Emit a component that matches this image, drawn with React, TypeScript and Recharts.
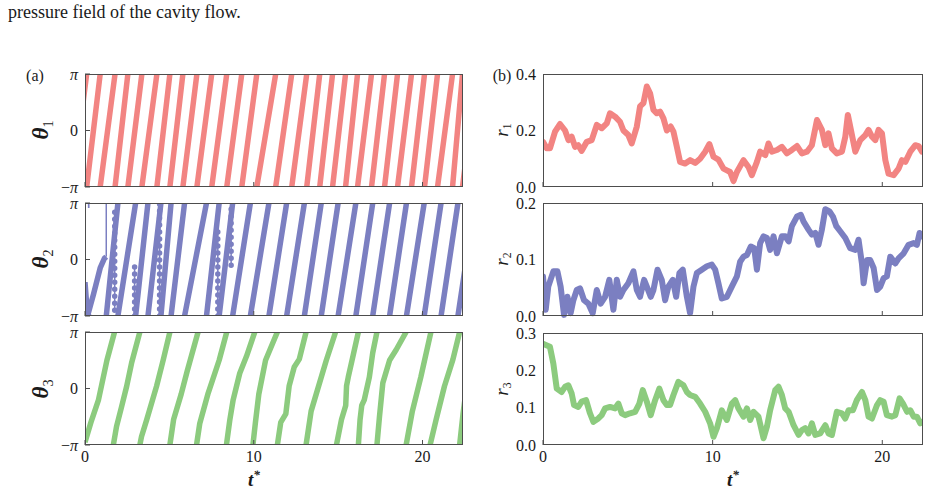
import React from "react";
import { LineChart, Line, XAxis, YAxis } from "recharts";

const FONT = '"Liberation Serif", "Times New Roman", serif';
const INK = "#1a1a1a";
const FRAME = "#4d4d4d";
const RED = "#f28482";
const BLUE = "#7b7fc1";
const GREEN = "#8ccb7e";

const TMAX = 22.4;
const X_TICKS = [0, 10, 20];
const THETA_TICKS = [-Math.PI, 0, Math.PI];

type Pt = [number, number];

// theta1: times where the phase reaches +pi and restarts at -pi
const theta1Wraps = [
  -0.75, 0.1, 0.9, 1.78, 2.54, 3.37, 4.26, 5.03, 5.8, 6.63, 7.51, 8.4, 9.29, 10.18, 11.3, 12.25,
  13.14, 13.91, 14.67, 15.44, 16.15, 16.98, 17.75, 18.52, 19.35, 20.12, 20.89, 21.78, 22.37, 23.2,
];

// theta2 (values in units of pi)
const theta2Lead: Pt[][] = [
  [[0, -0.4], [0.05, -0.6], [0.1, -0.8], [0.22, -1]],
  [[0.15, -1], [0.5, -0.62], [0.9, -0.15], [1.15, 0.02], [1.26, 0.05]],
  [[0.17, 0.96], [0.27, 0.96]],
];
const theta2Jump: Pt[][] = [[[1.26, 0.05], [1.26, 1]]];
const theta2Wraps = [
  1.26, 1.95, 3.0, 3.73, 4.5, 5.1, 5.9, 7.2, 7.95, 8.75, 9.8, 10.9, 11.95, 13.0, 14.0, 15.0, 16.05,
  17.05, 18.05, 19.05, 20.1, 21.1, 22.1, 23.1,
];
// dotted vertical columns: [t, low, high]
const theta2Flicker = [
  [1.76, -0.9, 0.85],
  [2.94, -1, -0.1],
  [4.42, -1, 1],
  [7.87, -1, 0.6],
  [8.66, -0.1, 0.9],
];

// theta3 strokes (values in units of pi)
const theta3Strokes: Pt[][] = [
  [[0, -0.95], [0.35, -0.6], [0.8, -0.2], [1.05, 0.15], [1.3, 0.5], [1.75, 1]],
  [[1.68, -1], [1.87, -0.67], [2.17, -0.32], [2.47, 0.04], [2.76, 0.45], [3.25, 1]],
  [[3.25, -1], [3.35, -0.85], [3.65, -0.56], [4.24, 0.04], [4.64, 0.51], [5.03, 1]],
  [[5.03, -1], [5.25, -0.55], [5.7, -0.1], [6.05, 0.3], [6.7, 1]],
  [[6.61, -1], [6.8, -0.62], [7.3, -0.08], [7.95, 0.5], [8.4, 1]],
  [[8.38, -1], [8.58, -0.56], [8.78, -0.2], [9.17, 0.27], [9.57, 0.57], [10.06, 1]],
  [[9.95, -1], [10.1, -0.6], [10.3, -0.1], [10.7, 0.5], [11.4, 1]],
  [[11.4, -1], [11.6, -0.6], [11.9, -0.45], [12.1, 0.05], [12.4, 0.38], [12.7, 0.52], [13.1, 1]],
  [[13.1, -1], [13.4, -0.4], [13.9, 0.1], [14.3, 0.5], [14.85, 1]],
  [[14.9, -1], [15.2, -0.55], [15.45, -0.3], [15.5, 0.05], [15.6, 0.2], [15.9, 0.6], [16.2, 1]],
  [[16.2, -1], [16.3, -0.55], [16.4, -0.3], [16.55, -0.2], [16.85, 0.2], [17.05, 0.63], [17.3, 1]],
  [[17.3, -1], [17.45, -0.5], [17.65, 0.1], [18.05, 0.5], [18.45, 0.69], [19.03, 1]],
  [[19.03, -1], [19.4, -0.4], [19.9, 0.2], [20.5, 1]],
  [[20.45, -1], [20.8, -0.56], [21.3, 0.04], [21.8, 0.51], [22.2, 1]],
  [[22.2, -1], [22.4, -0.45], [22.6, 0]],
];

// amplitudes [t, r]
const r1Points: Pt[] = [
  [0, 0.16], [0.22, 0.137], [0.41, 0.137], [0.71, 0.196], [1.0, 0.223], [1.3, 0.2], [1.5, 0.166],
  [1.69, 0.178], [1.89, 0.142], [2.08, 0.148], [2.28, 0.128], [2.58, 0.16], [2.87, 0.166],
  [3.17, 0.22], [3.46, 0.208], [3.76, 0.225], [3.95, 0.261], [4.25, 0.249], [4.54, 0.231],
  [4.74, 0.2], [5.03, 0.184], [5.23, 0.154], [5.53, 0.214], [5.72, 0.285], [5.92, 0.297],
  [6.12, 0.356], [6.31, 0.332], [6.51, 0.273], [6.71, 0.261], [6.9, 0.267], [7.1, 0.243],
  [7.3, 0.2], [7.53, 0.214], [7.69, 0.196], [7.89, 0.142], [8.08, 0.089], [8.38, 0.083],
  [8.67, 0.095], [8.97, 0.085], [9.26, 0.1], [9.56, 0.125], [9.81, 0.152], [10.05, 0.107],
  [10.34, 0.097], [10.64, 0.065], [10.84, 0.059], [11.03, 0.053], [11.23, 0.021], [11.43, 0.053],
  [11.82, 0.095], [12.11, 0.071], [12.31, 0.042], [12.61, 0.089], [12.8, 0.125], [13.1, 0.113],
  [13.29, 0.154], [13.49, 0.125], [13.79, 0.131], [14.08, 0.142], [14.38, 0.119], [14.67, 0.131],
  [14.97, 0.145], [15.26, 0.119], [15.56, 0.125], [15.85, 0.148], [16.15, 0.237], [16.44, 0.202],
  [16.64, 0.148], [16.83, 0.19], [17.03, 0.137], [17.32, 0.119], [17.62, 0.125], [17.82, 0.178],
  [17.97, 0.255], [18.15, 0.202], [18.41, 0.125], [18.7, 0.166], [19.0, 0.184], [19.19, 0.202],
  [19.39, 0.178], [19.59, 0.166], [19.78, 0.202], [19.98, 0.19], [20.18, 0.095], [20.37, 0.047],
  [20.67, 0.042], [20.96, 0.065], [21.16, 0.095], [21.36, 0.089], [21.65, 0.125], [21.95, 0.148],
  [22.14, 0.145], [22.34, 0.125],
];

const r2Points: Pt[] = [
  [0, 0.07], [0.16, 0.011], [0.31, 0.052], [0.61, 0.079], [0.85, 0.079], [1.04, 0.052],
  [1.24, 0.002], [1.44, 0.034], [1.63, 0.005], [1.79, 0.028], [1.99, 0.046], [2.18, 0.049],
  [2.42, 0.028], [2.67, 0.022], [2.93, 0.005], [3.17, 0.046], [3.4, 0.022], [3.66, 0.034],
  [3.91, 0.064], [4.15, 0.011], [4.35, 0.064], [4.54, 0.034], [4.74, 0.046], [5.03, 0.058],
  [5.33, 0.079], [5.53, 0.046], [5.72, 0.034], [5.96, 0.064], [6.12, 0.052], [6.35, 0.034],
  [6.51, 0.046], [6.75, 0.082], [7.0, 0.064], [7.2, 0.028], [7.39, 0.052], [7.65, 0.064],
  [7.85, 0.034], [8.04, 0.076], [8.24, 0.082], [8.48, 0.034], [8.67, 0.005], [8.87, 0.052],
  [9.07, 0.076], [9.36, 0.082], [9.66, 0.088], [9.95, 0.091], [10.15, 0.082], [10.34, 0.058],
  [10.54, 0.031], [10.84, 0.034], [11.13, 0.052], [11.43, 0.07], [11.62, 0.096], [11.82, 0.105],
  [12.02, 0.108], [12.25, 0.123], [12.45, 0.12], [12.61, 0.082], [12.8, 0.129], [13.0, 0.141],
  [13.2, 0.138], [13.39, 0.117], [13.59, 0.141], [13.79, 0.111], [14.08, 0.141], [14.28, 0.141],
  [14.48, 0.132], [14.67, 0.159], [14.97, 0.176], [15.2, 0.179], [15.36, 0.167], [15.65, 0.153],
  [15.85, 0.144], [16.05, 0.147], [16.24, 0.126], [16.44, 0.153], [16.64, 0.189], [16.89, 0.185],
  [17.09, 0.176], [17.29, 0.159], [17.52, 0.15], [17.82, 0.138], [18.11, 0.12], [18.41, 0.117],
  [18.6, 0.135], [18.8, 0.093], [18.9, 0.058], [19.1, 0.099], [19.29, 0.099], [19.49, 0.085],
  [19.69, 0.046], [19.88, 0.052], [20.08, 0.067], [20.27, 0.07], [20.47, 0.105], [20.77, 0.093],
  [20.96, 0.102], [21.26, 0.111], [21.55, 0.126], [21.85, 0.129], [22.04, 0.126], [22.2, 0.147],
  [22.34, 0.141],
];

const r3Points: Pt[] = [
  [0, 0.271], [0.2, 0.267], [0.41, 0.263], [0.61, 0.218], [0.81, 0.151], [1.1, 0.142],
  [1.3, 0.156], [1.49, 0.16], [1.69, 0.138], [1.83, 0.107], [2.08, 0.102], [2.28, 0.116],
  [2.54, 0.12], [2.77, 0.085], [2.97, 0.062], [3.26, 0.071], [3.46, 0.08], [3.66, 0.098],
  [3.95, 0.102], [4.25, 0.098], [4.44, 0.111], [4.64, 0.085], [4.84, 0.08], [5.13, 0.085],
  [5.43, 0.089], [5.68, 0.111], [5.88, 0.147], [6.12, 0.116], [6.35, 0.08], [6.61, 0.12],
  [6.86, 0.151], [7.1, 0.12], [7.3, 0.107], [7.49, 0.107], [7.69, 0.134], [7.98, 0.169],
  [8.28, 0.16], [8.48, 0.142], [8.67, 0.134], [8.97, 0.129], [9.26, 0.111], [9.56, 0.089],
  [9.85, 0.058], [10.05, 0.022], [10.25, 0.045], [10.54, 0.093], [10.84, 0.067], [11.13, 0.111],
  [11.33, 0.12], [11.52, 0.098], [11.82, 0.076], [12.02, 0.098], [12.21, 0.067], [12.41, 0.089],
  [12.7, 0.076], [13.0, 0.018], [13.2, 0.049], [13.39, 0.093], [13.69, 0.147], [13.88, 0.156],
  [14.08, 0.134], [14.28, 0.098], [14.48, 0.089], [14.77, 0.053], [15.07, 0.027], [15.26, 0.04],
  [15.46, 0.045], [15.65, 0.031], [15.85, 0.058], [16.05, 0.027], [16.34, 0.031], [16.64, 0.053],
  [16.83, 0.031], [17.03, 0.027], [17.32, 0.089], [17.62, 0.085], [17.82, 0.071], [18.01, 0.093],
  [18.27, 0.093], [18.5, 0.12], [18.8, 0.142], [19.0, 0.12], [19.19, 0.076], [19.39, 0.071],
  [19.69, 0.107], [19.88, 0.12], [20.08, 0.116], [20.27, 0.08], [20.57, 0.076], [20.77, 0.08],
  [21.02, 0.125], [21.22, 0.111], [21.46, 0.089], [21.65, 0.093], [21.85, 0.076], [22.04, 0.076],
  [22.24, 0.058], [22.34, 0.062],
];

type Row = Record<string, number | null>;

function wrapsToStrokes(wraps: number[]): Pt[][] {
  const out: Pt[][] = [];
  for (let i = 0; i < wraps.length - 1; i++) {
    out.push([[wraps[i], -1], [wraps[i + 1], 1]]);
  }
  return out;
}

// strokes in units of pi -> rows separated by nulls
function strokeRows(strokes: Pt[][], key: string): Row[] {
  const rows: Row[] = [];
  strokes.forEach((s) => {
    s.forEach(([t, th]) => rows.push({ t, [key]: th * Math.PI }));
    rows.push({ t: s[s.length - 1][0], [key]: null });
  });
  return rows;
}

const theta1Rows = strokeRows(wrapsToStrokes(theta1Wraps), "v");
const theta2Rows = [
  ...strokeRows([...theta2Lead, ...wrapsToStrokes(theta2Wraps)], "v"),
  ...strokeRows(theta2Jump, "jump"),
  ...strokeRows(
    theta2Flicker.map(([t, lo, hi]) => [[t, lo], [t, hi]] as Pt[]),
    "dot"
  ),
];
const theta3Rows = strokeRows(theta3Strokes, "v");
const toRows = (pts: Pt[]): Row[] => pts.map(([t, r]) => ({ t, v: r }));

function PiTick(props: any) {
  const { x, y, payload } = props;
  const v = payload.value;
  return (
    <text x={x} y={y} textAnchor="end" dominantBaseline="central" fontFamily={FONT} fontSize={16} fill={INK}>
      {v < 0 ? "\u2212" : ""}
      {v === 0 ? "0" : <tspan fontStyle="italic">π</tspan>}
    </text>
  );
}

const YW = 60;
const PAD = 12;

interface PanelProps {
  x: number;
  y: number;
  w: number;
  h: number;
  rows: Row[];
  domain: [number, number];
  yTicks: number[];
  theta?: boolean;
  showX?: boolean;
  children: React.ReactNode;
}

function Panel({ x, y, w, h, rows, domain, yTicks, theta, showX, children }: PanelProps) {
  const XH = showX ? 30 : PAD;
  return (
    <>
      <div style={{ position: "absolute", left: x - YW, top: y - PAD }}>
        <LineChart
          width={YW + w + 10}
          height={PAD + h + XH}
          data={rows}
          margin={{ top: PAD, right: 10, left: 0, bottom: 0 }}
        >
          <XAxis
            dataKey="t"
            type="number"
            domain={[0, TMAX]}
            ticks={X_TICKS}
            interval={0}
            allowDataOverflow
            axisLine={false}
            tickSize={-5}
            tickLine={{ stroke: FRAME }}
            tickMargin={11}
            height={XH}
            tick={{ fill: INK, fontSize: 16, fontFamily: FONT }}
            tickFormatter={(v: number) => (showX ? String(v) : "")}
          />
          <YAxis
            type="number"
            domain={domain}
            ticks={yTicks}
            interval={0}
            allowDataOverflow={!!theta}
            axisLine={false}
            width={YW}
            tickSize={theta ? -5 : 0}
            tickLine={theta ? { stroke: FRAME } : false}
            tickMargin={theta ? 12 : 7}
            tick={theta ? <PiTick /> : { fill: INK, fontSize: 16, fontFamily: FONT }}
            tickFormatter={(v: number) => v.toFixed(1)}
          />
          {children}
        </LineChart>
      </div>
      <div
        style={{
          position: "absolute",
          left: x,
          top: y,
          width: w,
          height: h,
          border: `1px solid ${FRAME}`,
          boxSizing: "border-box",
          pointerEvents: "none",
        }}
      />
    </>
  );
}

function Txt({
  cx,
  cy,
  size,
  rotate,
  children,
}: {
  cx: number;
  cy: number;
  size: number;
  rotate?: boolean;
  children: React.ReactNode;
}) {
  return (
    <div
      style={{
        position: "absolute",
        left: cx,
        top: cy,
        transform: `translate(-50%, -50%)${rotate ? " rotate(-90deg)" : ""}`,
        fontFamily: FONT,
        fontSize: size,
        lineHeight: 1,
        whiteSpace: "nowrap",
        color: INK,
      }}
    >
      {children}
    </div>
  );
}

const sub = (s: string) => (
  <span style={{ fontSize: "0.62em", verticalAlign: "-0.3em", fontWeight: "normal", fontStyle: "normal" }}>{s}</span>
);

const thetaLabel = (n: string) => (
  <span>
    <span style={{ fontStyle: "italic", fontWeight: "bold" }}>θ</span>
    {sub(n)}
  </span>
);
const rLabel = (n: string) => (
  <span>
    <span style={{ fontStyle: "italic" }}>r</span>
    {sub(n)}
  </span>
);
const tStar = (
  <span style={{ fontStyle: "italic", fontWeight: "bold" }}>
    t<sup style={{ fontSize: "0.7em" }}>*</sup>
  </span>
);

const stripe = { type: "linear" as const, dot: false, isAnimationActive: false, strokeLinejoin: "round" as const };

export default function App() {
  const LX = 85;
  const LW = 378;
  const RX = 543;
  const RW = 380;
  const H = 113;
  const Y1 = 74;
  const Y2 = 203;
  const Y3 = 332;
  return (
    <div style={{ position: "absolute", left: 0, top: 0, width: 930, height: 492, background: "#fff", overflow: "hidden" }}>
      <div
        style={{
          position: "absolute",
          left: 8,
          top: 3,
          fontFamily: FONT,
          fontSize: 18,
          lineHeight: "18px",
          color: INK,
          whiteSpace: "nowrap",
        }}
      >
        pressure field of the cavity flow.
      </div>

      <Panel x={LX} y={Y1} w={LW} h={H} rows={theta1Rows} domain={[-Math.PI, Math.PI]} yTicks={THETA_TICKS} theta>
        <Line {...stripe} dataKey="v" stroke={RED} strokeWidth={5.5} />
      </Panel>
      <Panel x={LX} y={Y2} w={LW} h={H} rows={theta2Rows} domain={[-Math.PI, Math.PI]} yTicks={THETA_TICKS} theta>
        <Line {...stripe} dataKey="v" stroke={BLUE} strokeWidth={5.5} />
        <Line {...stripe} dataKey="jump" stroke={BLUE} strokeWidth={1.5} />
        <Line {...stripe} dataKey="dot" stroke={BLUE} strokeWidth={1.5} />
        <Line {...stripe} dataKey="dot" stroke={BLUE} strokeWidth={5.5} strokeDasharray="0 7" strokeLinecap="round" />
      </Panel>
      <Panel x={LX} y={Y3} w={LW} h={H} rows={theta3Rows} domain={[-Math.PI, Math.PI]} yTicks={THETA_TICKS} theta showX>
        <Line {...stripe} dataKey="v" stroke={GREEN} strokeWidth={5.5} />
      </Panel>

      <Panel x={RX} y={Y1} w={RW} h={H} rows={toRows(r1Points)} domain={[0, 0.4]} yTicks={[0, 0.2, 0.4]}>
        <Line {...stripe} dataKey="v" stroke={RED} strokeWidth={6} strokeLinecap="round" />
      </Panel>
      <Panel x={RX} y={Y2} w={RW} h={H} rows={toRows(r2Points)} domain={[0, 0.2]} yTicks={[0, 0.1, 0.2]}>
        <Line {...stripe} dataKey="v" stroke={BLUE} strokeWidth={6} strokeLinecap="round" />
      </Panel>
      <Panel x={RX} y={Y3 + 1} w={RW} h={H - 1} rows={toRows(r3Points)} domain={[0, 0.3]} yTicks={[0, 0.1, 0.2, 0.3]} showX>
        <Line {...stripe} dataKey="v" stroke={GREEN} strokeWidth={6} strokeLinecap="round" />
      </Panel>

      <Txt cx={35} cy={76} size={16}>(a)</Txt>
      <Txt cx={502} cy={76} size={16}>(b)</Txt>

      <Txt cx={42} cy={130} size={23} rotate>{thetaLabel("1")}</Txt>
      <Txt cx={42} cy={259} size={23} rotate>{thetaLabel("2")}</Txt>
      <Txt cx={42} cy={389} size={23} rotate>{thetaLabel("3")}</Txt>

      <Txt cx={503} cy={130} size={19} rotate>{rLabel("1")}</Txt>
      <Txt cx={503} cy={259} size={19} rotate>{rLabel("2")}</Txt>
      <Txt cx={503} cy={389} size={19} rotate>{rLabel("3")}</Txt>

      <Txt cx={254} cy={479} size={19}>{tStar}</Txt>
      <Txt cx={733} cy={479} size={19}>{tStar}</Txt>
    </div>
  );
}
